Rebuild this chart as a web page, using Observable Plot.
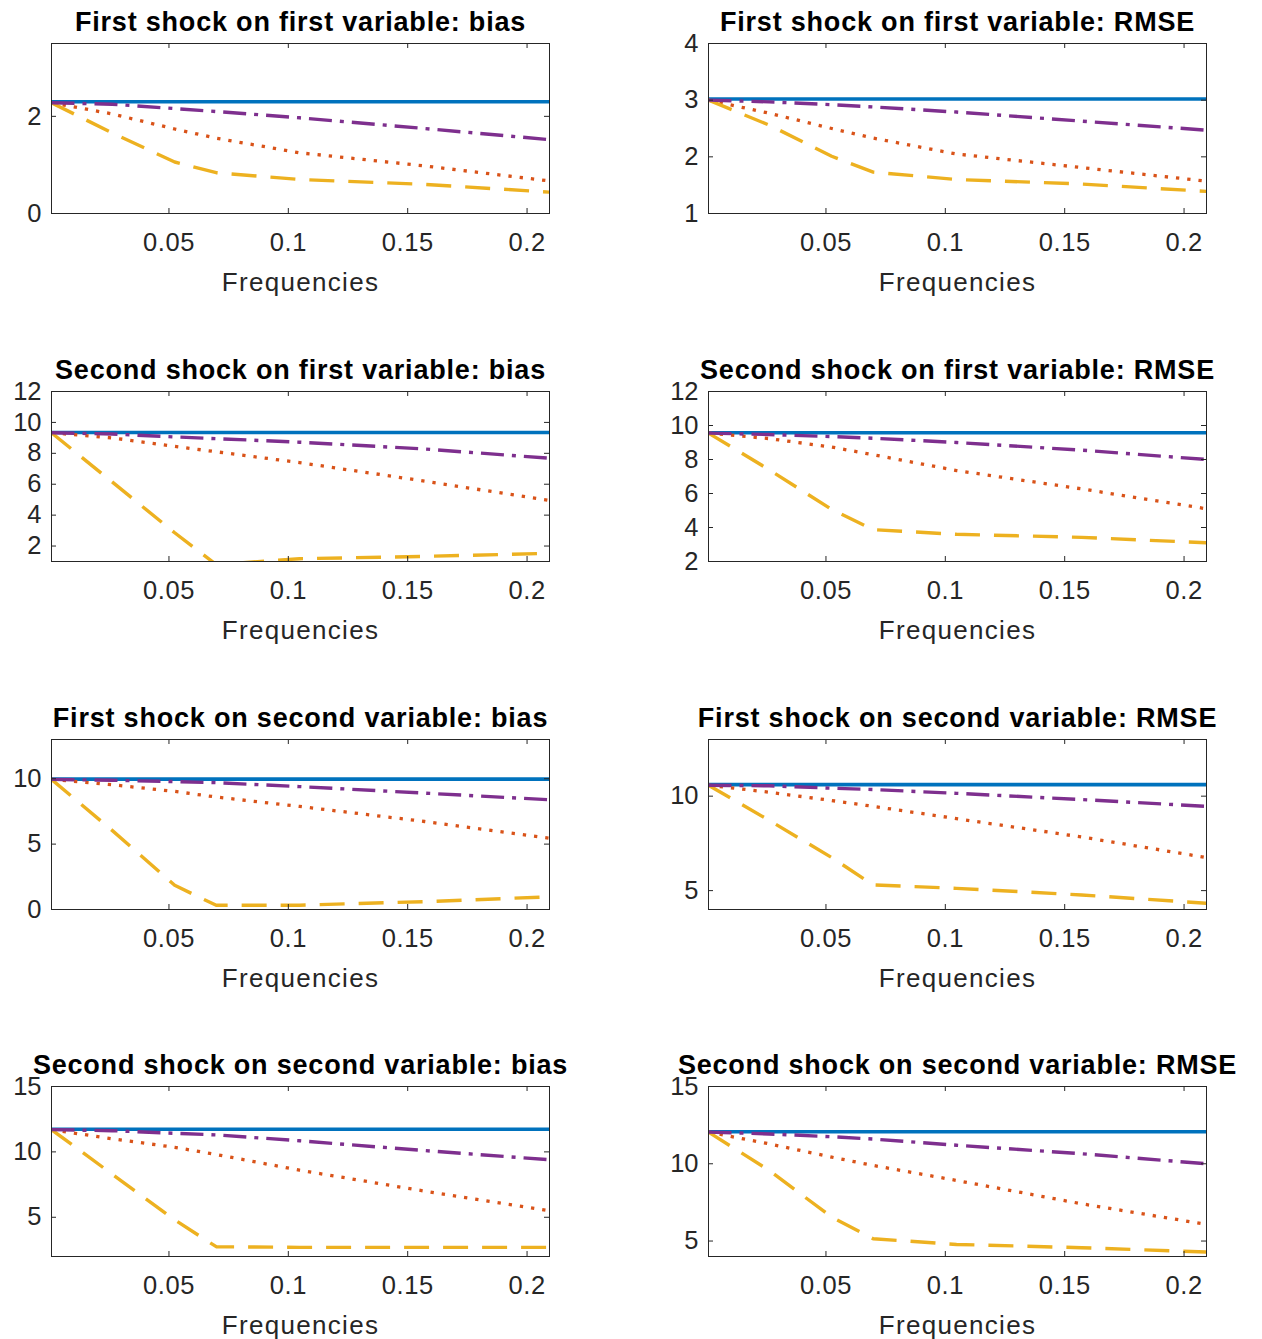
<!DOCTYPE html>
<html>
<head>
<meta charset="utf-8">
<script src="https://cdn.jsdelivr.net/npm/d3@7"></script>
<script src="https://cdn.jsdelivr.net/npm/@observablehq/plot@0.6"></script>
<style>
  html, body { margin: 0; padding: 0; background: #ffffff; overflow: hidden; }
  #chart { position: relative; width: 1262px; height: 1339px; overflow: hidden; background: #ffffff; }
  #chart svg { position: absolute; }
</style>
</head>
<body>
<div id="chart"></div>
<script>
// ---------- data ----------
const frequencies = [0.0008, 0.0262, 0.0524, 0.0698, 0.1047, 0.1571, 0.2094];
const xTicks = [0.05, 0.1, 0.15, 0.2];
const xTickLabels = ["0.05", "0.1", "0.15", "0.2"];
const xLabel = "Frequencies";

const titles = [
  "First shock on first variable: bias",
  "First shock on first variable: RMSE",
  "Second shock on first variable: bias",
  "Second shock on first variable: RMSE",
  "First shock on second variable: bias",
  "First shock on second variable: RMSE",
  "Second shock on second variable: bias",
  "Second shock on second variable: RMSE"
];

const yDomains = [[0, 3.5], [1, 4], [1, 12], [2, 12], [0, 13], [4, 13], [2, 15], [4, 15]];
const yTicks = [[0, 2], [1, 2, 3, 4], [2, 4, 6, 8, 10, 12], [2, 4, 6, 8, 10, 12], [0, 5, 10], [5, 10], [5, 10, 15], [5, 10, 15]];

// solid (blue), dotted (orange), dashed (yellow), dash-dot (purple)
const solid1 = [2.30, 2.30, 2.30, 2.30, 2.30, 2.30, 2.30];
const dotted1 = [2.28, 2.05, 1.74, 1.55, 1.25, 0.98, 0.67];
const dashed1 = [2.28, 1.66, 1.06, 0.84, 0.70, 0.60, 0.44];
const dashDot1 = [2.28, 2.25, 2.16, 2.10, 1.97, 1.75, 1.52];

const solid2 = [3.02, 3.02, 3.02, 3.02, 3.02, 3.02, 3.02];
const dotted2 = [3.00, 2.77, 2.50, 2.33, 2.05, 1.81, 1.57];
const dashed2 = [3.00, 2.56, 2.01, 1.73, 1.60, 1.52, 1.39];
const dashDot2 = [3.00, 2.97, 2.92, 2.88, 2.79, 2.63, 2.47];

const solid3 = [9.35, 9.35, 9.35, 9.35, 9.35, 9.35, 9.35];
const dotted3 = [9.33, 9.00, 8.45, 8.10, 7.40, 6.20, 4.95];
const dashed3 = [9.33, 6.15, 2.86, 0.80, 1.18, 1.33, 1.53];
const dashDot3 = [9.33, 9.25, 9.06, 8.95, 8.72, 8.28, 7.68];

const solid4 = [9.57, 9.57, 9.57, 9.57, 9.57, 9.57, 9.57];
const dotted4 = [9.55, 9.23, 8.73, 8.28, 7.35, 6.27, 5.10];
const dashed4 = [9.55, 7.40, 5.06, 3.87, 3.60, 3.42, 3.10];
const dashDot4 = [9.55, 9.47, 9.35, 9.25, 9.00, 8.55, 8.00];

const solid5 = [9.97, 9.97, 9.97, 9.97, 9.97, 9.97, 9.97];
const dotted5 = [9.95, 9.54, 9.03, 8.60, 7.88, 6.73, 5.45];
const dashed5 = [9.95, 6.05, 1.85, 0.32, 0.33, 0.60, 0.97];
const dashDot5 = [9.95, 9.88, 9.78, 9.70, 9.40, 8.90, 8.39];

const solid6 = [10.61, 10.61, 10.61, 10.61, 10.61, 10.61, 10.61];
const dotted6 = [10.58, 10.21, 9.77, 9.46, 8.81, 7.84, 6.75];
const dashed6 = [10.58, 8.72, 6.75, 5.30, 5.12, 4.77, 4.33];
const dashDot6 = [10.58, 10.55, 10.42, 10.35, 10.15, 9.82, 9.46];

const solid7 = [11.73, 11.73, 11.73, 11.73, 11.73, 11.73, 11.73];
const dotted7 = [11.70, 11.00, 10.35, 9.80, 8.60, 7.00, 5.50];
const dashed7 = [11.70, 8.30, 4.80, 2.75, 2.70, 2.70, 2.70];
const dashDot7 = [11.70, 11.62, 11.42, 11.30, 10.85, 10.10, 9.40];

const solid8 = [12.07, 12.07, 12.07, 12.07, 12.07, 12.07, 12.07];
const dotted8 = [12.05, 11.29, 10.43, 9.89, 8.92, 7.41, 6.08];
const dashed8 = [12.05, 9.57, 6.55, 5.15, 4.78, 4.57, 4.29];
const dashDot8 = [12.05, 11.93, 11.75, 11.60, 11.20, 10.65, 10.00];

const solidSeries = [solid1, solid2, solid3, solid4, solid5, solid6, solid7, solid8];
const dottedSeries = [dotted1, dotted2, dotted3, dotted4, dotted5, dotted6, dotted7, dotted8];
const dashedSeries = [dashed1, dashed2, dashed3, dashed4, dashed5, dashed6, dashed7, dashed8];
const dashDotSeries = [dashDot1, dashDot2, dashDot3, dashDot4, dashDot5, dashDot6, dashDot7, dashDot8];

// ---------- layout ----------
const FONT = "'Liberation Sans', Arial, Helvetica, sans-serif";
const INK = "#262626";
const frameW = 498, frameH = 170;
const ML = 50, MR = 50, MT = 43, MB = 92;
const colLeft = [1, 658];
const rowTop = [0, 348, 696, 1043];
const TICK = 5;

const styles = {
  solid: {stroke: "#0072BD", strokeWidth: 3.6},
  dotted: {stroke: "#D95319", strokeWidth: 3.3, strokeDasharray: "3.3,8"},
  dashed: {stroke: "#EDB120", strokeWidth: 3.4, strokeDasharray: "25,14"},
  dashDot: {stroke: "#7E2F8E", strokeWidth: 3.4, strokeDasharray: "23,8,4,8"}
};

const xLabelOf = new Map(xTicks.map((t, i) => [t, xTickLabels[i]]));

function rows(values) {
  return frequencies.map((f, i) => ({f, v: values[i]}));
}

function panel(k) {
  const lines = [
    ["solid", solidSeries[k]],
    ["dotted", dottedSeries[k]],
    ["dashed", dashedSeries[k]],
    ["dashDot", dashDotSeries[k]]
  ].map(([name, vals]) =>
    Plot.line(rows(vals), {x: "f", y: "v", clip: true, strokeLinecap: "butt", strokeLinejoin: "round", ...styles[name]})
  );
  const svg = Plot.plot({
    width: ML + frameW + MR,
    height: MT + frameH + MB,
    marginLeft: ML, marginRight: MR, marginTop: MT, marginBottom: MB,
    style: {background: "transparent", color: INK, fontFamily: FONT, overflow: "visible"},
    x: {domain: [frequencies[0], frequencies[frequencies.length - 1]], axis: null},
    y: {domain: yDomains[k], axis: null},
    marks: [
      ...lines,
      Plot.frame({stroke: INK, strokeWidth: 1}),
      Plot.tickX(xTicks, {x: d => d, insetTop: frameH - TICK, stroke: INK}),
      Plot.tickX(xTicks, {x: d => d, insetBottom: frameH - TICK, stroke: INK}),
      Plot.tickY(yTicks[k], {y: d => d, insetRight: frameW - TICK, stroke: INK}),
      Plot.tickY(yTicks[k], {y: d => d, insetLeft: frameW - TICK, stroke: INK}),
      Plot.axisX(xTicks, {anchor: "bottom", tickSize: 0, tickPadding: 19, fontSize: 25.5, label: null, tickFormat: d => xLabelOf.get(d), fill: INK}),
      Plot.axisY(yTicks[k], {anchor: "left", tickSize: 0, tickPadding: 10, fontSize: 25.5, label: null, tickFormat: d => String(d), fill: INK}),
      Plot.text([titles[k]], {frameAnchor: "top", lineAnchor: "bottom", dy: -12.5, fontSize: 27, fontWeight: "bold", fill: "#000000", text: d => d}),
      Plot.text([xLabel], {frameAnchor: "bottom", lineAnchor: "bottom", dy: 77, fontSize: 26, fill: INK, text: d => d})
    ]
  });
  d3.select(svg).selectAll("text").each(function () {
    const t = this.textContent;
    if (t === titles[k]) this.style.letterSpacing = "0.8px";
    else if (t === xLabel) this.style.letterSpacing = "1.3px";
    else if (xTickLabels.includes(t)) this.style.letterSpacing = "0.6px";
  });
  svg.style.left = colLeft[k % 2] + "px";
  svg.style.top = rowTop[Math.floor(k / 2)] + "px";
  return svg;
}

const chart = document.getElementById("chart");
for (let k = 0; k < 8; k++) chart.appendChild(panel(k));
</script>
</body>
</html>
